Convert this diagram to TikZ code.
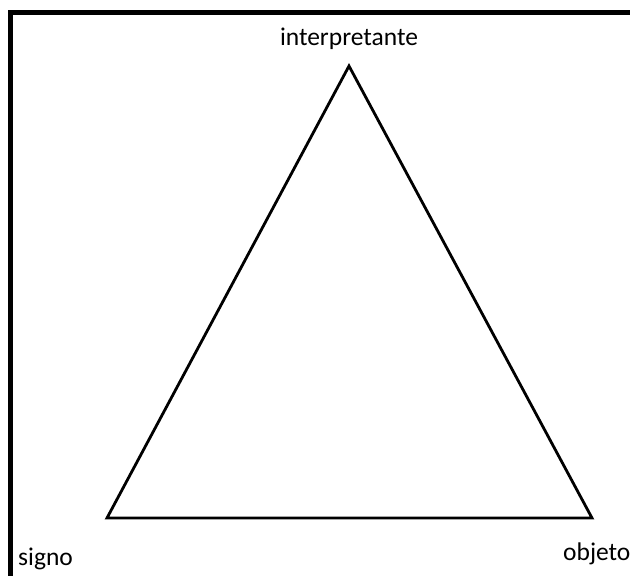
\documentclass[tikz,border=0pt]{standalone}
\usepackage{fontspec}
\setmainfont{Carlito}
\usetikzlibrary{positioning}

\begin{document}
\begin{tikzpicture}[x=1pt,y=-1pt,font=\fontsize{25.5}{30}\selectfont,
    lbl/.style={inner sep=0pt}]
  \useasboundingbox (0,0) rectangle (630,576);
  % frame (cut off at right and bottom)
  \draw[line width=4.5pt] (10.5,590) -- (10.5,12.5) -- (650,12.5);
  % corners of the triangle
  \coordinate (interp) at (349,66);
  \coordinate (signo) at (107,518);
  \coordinate (objeto) at (592,518);
  \draw[line width=2.8pt,line join=miter] (interp) -- (signo) -- (objeto) -- cycle;
  \node[lbl,anchor=base] (interptxt) at (349,45) {interpretante};
  \node[lbl,anchor=base west] (signotxt) at (18,565) {signo};
  \node[lbl,anchor=base west] (objetotxt) at (563,560) {objeto};
\end{tikzpicture}
\end{document}
